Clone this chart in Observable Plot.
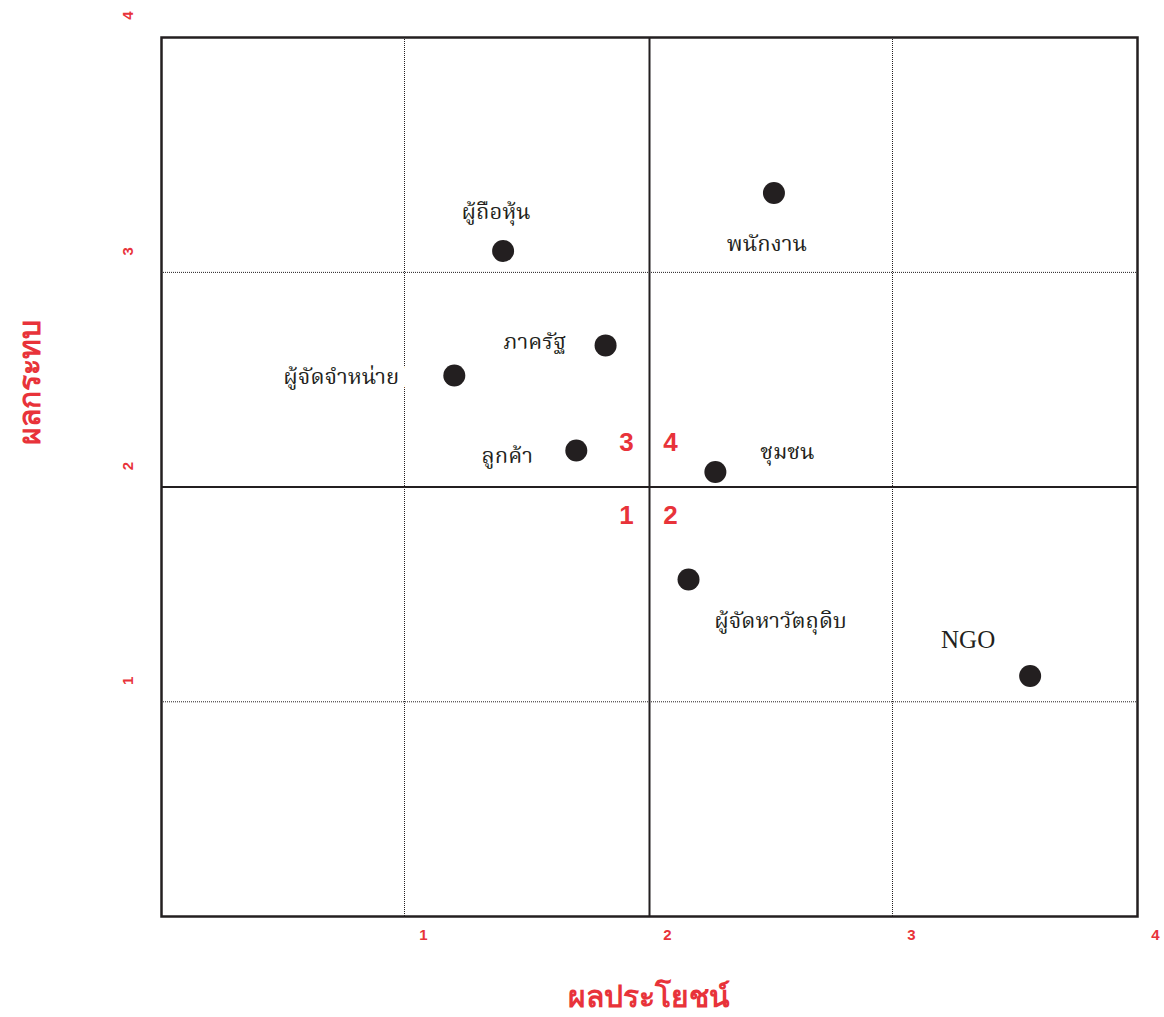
<!DOCTYPE html>
<html><head><meta charset="utf-8">
<script src="https://cdn.jsdelivr.net/npm/d3@7"></script>
<script src="https://cdn.jsdelivr.net/npm/@observablehq/plot@0.6"></script>
<style>body{margin:0;background:#fff}</style>
</head><body><div id="chart"></div>
<script>
const stakeholders = ["ผู้ถือหุ้น", "พนักงาน", "ภาครัฐ", "ผู้จัดจำหน่าย", "ลูกค้า", "ชุมชน", "ผู้จัดหาวัตถุดิบ", "NGO"];
const benefit = [1.40, 2.51, 1.82, 1.20, 1.70, 2.27, 2.16, 3.56];
const impact = [3.10, 3.37, 2.66, 2.52, 2.17, 2.07, 1.57, 1.12];
const xTicks = [1, 2, 3, 4];
const yTicks = [1, 2, 3];
const yTopTick = "4";
const xTitle = "ผลประโยชน์";
const yTitle = "ผลกระทบ";
const quadrantLabels = ["1", "2", "3", "4"];

const data = stakeholders.map((name, i) => ({name, x: benefit[i], y: impact[i]}));
const RED = "#e8333a";
const INK = "#231f20";
const thaiFont = "'Liberation Serif', 'Noto Serif Thai', 'Noto Sans Thai', serif";
const sans = "'Liberation Sans', Arial, sans-serif";

function label(i, dx, dy, size = 22, extra = {}) {
  return Plot.text([data[i]], {x: "x", y: "y", text: "name", dx, dy, fontSize: size, fill: INK, fontFamily: thaiFont, ...extra});
}
function quad(i, dx, dy) {
  return Plot.text([quadrantLabels[i]], {x: () => 2, y: () => 2, text: d => d, dx, dy, fontSize: 26, fontWeight: "bold", fill: RED, fontFamily: sans});
}
const tickStyle = {fill: RED, fontWeight: 700, fontSize: 15, fontFamily: sans, textAnchor: "middle", lineAnchor: "middle"};

const chart = Plot.plot({
  width: 1164,
  height: 1017,
  marginLeft: 161,
  marginRight: 27,
  marginTop: 37,
  marginBottom: 101,
  x: {domain: [0, 4], axis: null},
  y: {domain: [0, 4.094], axis: null},
  style: {background: "#fff", fontFamily: sans},
  marks: [
    Plot.ruleX([1, 3], {stroke: INK, strokeWidth: 1, strokeDasharray: "1,1", dx: -1}),
    Plot.ruleY([1, 3], {stroke: INK, strokeWidth: 1, strokeDasharray: "1,1"}),
    Plot.ruleX([2], {stroke: INK, strokeWidth: 2}),
    Plot.ruleY([2], {stroke: INK, strokeWidth: 2}),
    Plot.frame({stroke: INK, strokeWidth: 2.5}),
    Plot.text(xTicks, {x: d => d, frameAnchor: "bottom", dx: 18, dy: 19, text: d => String(d), ...tickStyle}),
    Plot.text(yTicks, {y: d => d, frameAnchor: "left", dx: -33, dy: -21, rotate: -90, text: d => String(d), ...tickStyle}),
    Plot.text([yTopTick], {frameAnchor: "top-left", dx: -33, dy: -22, rotate: -90, text: d => d, ...tickStyle}),
    Plot.text([xTitle], {frameAnchor: "bottom", dx: -1, dy: 81, text: d => d, fill: RED, fontWeight: "bold", fontSize: 30, textAnchor: "middle", lineAnchor: "middle", fontFamily: "'Noto Sans', 'DejaVu Sans', sans-serif"}),
    Plot.text([yTitle], {frameAnchor: "left", dx: -131, dy: -95, rotate: -90, text: d => d, fill: RED, fontWeight: "bold", fontSize: 30, textAnchor: "middle", lineAnchor: "middle", fontFamily: "'Noto Sans', 'DejaVu Sans', sans-serif"}),
    quad(2, -23, -44),
    quad(3, 21, -44),
    quad(0, -23, 29),
    quad(1, 21, 29),
    Plot.dot(data, {x: "x", y: "y", r: 11, fill: INK, stroke: null}),
    label(0, -7, -39),
    label(1, -7, 51),
    label(2, -71, -3),
    label(3, -113, 2, 22, {stroke: "white", strokeWidth: 18}),
    label(4, -69, 5),
    label(5, 72, -20),
    label(6, 92, 42),
    label(7, -62, -36, 25)
  ]
});
document.getElementById("chart").appendChild(chart);
</script>
</body></html>
